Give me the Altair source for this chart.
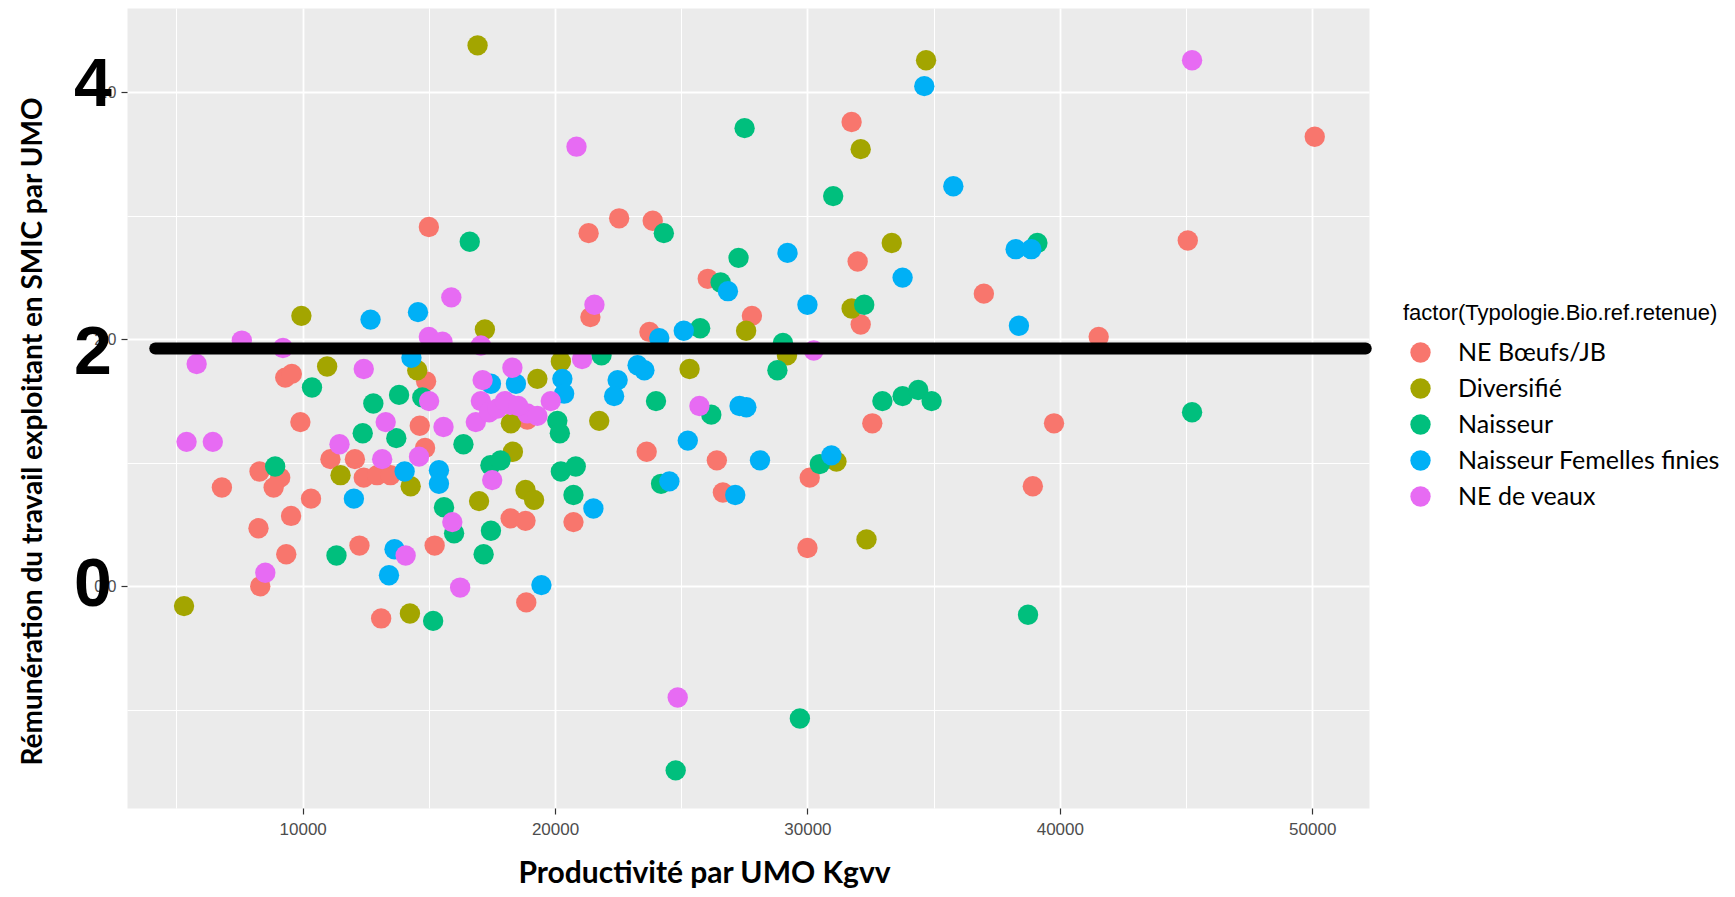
import altair as alt
import pandas as pd

categories = ["NE Bœufs/JB", "Diversifié", "Naisseur", "Naisseur Femelles finies", "NE de veaux"]
colors = ["#F8766D", "#A3A500", "#00BF7D", "#00B0F6", "#E76BF3"]

red_x = [15000, 21330, 22540, 23870, 31750, 31990, 26050, 21400, 32110, 27800, 23740, 36990, 41540, 45070, 50100,
         14890, 9310, 9570, 9910, 14640, 14850, 11100, 12070, 8290, 9110, 8850, 6800, 12420, 12950, 13480,
         10330, 9540, 8250, 9350, 12250, 15230, 8320, 13110, 18900, 23630, 26410, 26650, 32570, 30090, 18240,
         18830, 20730, 30000, 18860, 39770, 38930]
red_y = [2.91, 2.86, 2.98, 2.96, 3.76, 2.63, 2.49, 2.18, 2.12, 2.19, 2.06, 2.37, 2.02, 2.80, 3.64,
         1.66, 1.69, 1.72, 1.33, 1.30, 1.12, 1.03, 1.03, 0.93, 0.88, 0.80, 0.80, 0.88, 0.90, 0.90,
         0.71, 0.57, 0.47, 0.26, 0.33, 0.33, 0.00, -0.26, 1.35, 1.09, 1.02, 0.76, 1.32, 0.88, 0.55,
         0.53, 0.52, 0.31, -0.13, 1.32, 0.81]

olive_x = [16930, 9950, 17220, 10970, 14540, 32110, 31750, 27570, 29190, 20230, 25330, 19300, 34700, 33340,
           11500, 14280, 16990, 5300, 14250, 18250, 21750, 18330, 18830, 19170, 31150, 32340]
olive_y = [4.38, 2.19, 2.08, 1.78, 1.75, 3.54, 2.25, 2.07, 1.87, 1.82, 1.76, 1.68, 4.26, 2.78,
           0.90, 0.81, 0.69, -0.16, -0.22, 1.32, 1.34, 1.09, 0.78, 0.70, 1.01, 0.38]

green_x = [16620, 27510, 31020, 24310, 27270, 26560, 32250, 25750, 29030, 21840, 28810, 39110, 10370, 12800,
           13820, 14740, 12380, 13710, 16370, 8910, 15600, 16000, 17460, 17170, 11340, 15170, 24000, 26190,
           20090, 20190, 17440, 17840, 20230, 20820, 24200, 30490, 20730, 32970, 33770, 34390, 34920, 45240,
           38740, 29700, 24780]
green_y = [2.79, 3.71, 3.16, 2.86, 2.66, 2.46, 2.28, 2.09, 1.97, 1.87, 1.75, 2.78, 1.61, 1.48,
           1.55, 1.53, 1.24, 1.20, 1.15, 0.97, 0.64, 0.43, 0.45, 0.26, 0.25, -0.28, 1.50, 1.39,
           1.34, 1.24, 0.98, 1.02, 0.93, 0.97, 0.83, 0.99, 0.74, 1.50, 1.54, 1.59, 1.50, 1.41,
           -0.23, -1.07, -1.49]

blue_x = [12690, 14570, 14310, 26850, 29210, 30000, 24130, 25100, 34630, 35780, 33770, 38250, 38870, 38380,
          17460, 14040, 12030, 15400, 15400, 13640, 13420, 18450, 20290, 20360, 22480, 22340, 23540, 23270,
          27310, 27580, 25260, 28120, 24530, 27140, 30950, 21520, 19460]
blue_y = [2.16, 2.22, 1.85, 2.39, 2.70, 2.28, 2.01, 2.07, 4.05, 3.24, 2.50, 2.73, 2.73, 2.11,
          1.64, 0.93, 0.71, 0.94, 0.83, 0.30, 0.09, 1.64, 1.68, 1.56, 1.67, 1.54, 1.75, 1.79,
          1.46, 1.45, 1.18, 1.02, 0.85, 0.74, 1.06, 0.63, 0.01]

pink_x = [20850, 15890, 21560, 7590, 9220, 15000, 15540, 17060, 5800, 12420, 30250, 21070, 18310, 15010,
          17130, 17060, 16860, 17390, 17720, 13290, 15580, 11460, 14610, 5400, 6440, 13150, 15930, 14080,
          8520, 16240, 19830, 18240, 18900, 19300, 18010, 18540, 25720, 17510, 24860, 45240]
pink_y = [3.56, 2.34, 2.28, 1.99, 1.93, 2.02, 1.98, 1.95, 1.80, 1.76, 1.91, 1.84, 1.77, 1.50,
          1.67, 1.50, 1.33, 1.41, 1.44, 1.33, 1.29, 1.15, 1.05, 1.17, 1.17, 1.03, 0.52, 0.25,
          0.11, -0.01, 1.50, 1.47, 1.40, 1.38, 1.50, 1.46, 1.46, 0.86, -0.90, 4.26]

# horizontal reference line (SMIC threshold)
ref_x_start = [4160]
ref_x_end = [52120]
ref_y = [1.925]

# big overlay axis labels
big_labels = ["4", "2", "0"]
big_label_y = [4.05, 1.88, 0.0]

x_ticks = [5000, 10000, 15000, 20000, 25000, 30000, 35000, 40000, 45000, 50000]
y_ticks = [-1, 0, 1, 2, 3, 4]

series = [(categories[0], red_x, red_y), (categories[1], olive_x, olive_y), (categories[2], green_x, green_y),
          (categories[3], blue_x, blue_y), (categories[4], pink_x, pink_y)]
rows = []
for name, xs, ys in series:
    for a, b in zip(xs, ys):
        rows.append({"x": a, "y": b, "type": name})
df = pd.DataFrame(rows)

line_df = pd.DataFrame({"x": ref_x_start, "x2": ref_x_end, "y": ref_y})
big_df = pd.DataFrame({"t": big_labels, "y": big_label_y})

x_scale = alt.Scale(domain=[3040, 52250], nice=False, zero=False)
y_scale = alt.Scale(domain=[-1.795, 4.683], nice=False, zero=False)

x_axis = alt.Axis(
    values=x_ticks, format="d",
    labelExpr="datum.value % 10000 === 0 ? datum.label : ''",
    grid=True, gridColor="#FFFFFF",
    gridWidth={"condition": {"test": "datum.value % 10000 === 0", "value": 1.8}, "value": 1.0},
    tickColor={"condition": {"test": "datum.value % 10000 === 0", "value": "#333333"}, "value": "transparent"},
    tickSize=6, tickWidth=1.2, domain=False,
    labelFont="Liberation Sans", labelFontSize=17, labelColor="#4D4D4D", labelPadding=7,
    labelFlush=False, labelOverlap=False,
    titleFont="Lato", titleFontSize=30, titleFontWeight="bold", titleColor="#000000",
    titleX=577, titleY=65, titleAlign="center", titleBaseline="middle",
)
y_axis = alt.Axis(
    values=y_ticks,
    labelExpr="datum.value % 2 === 0 ? datum.label : ''",
    grid=True, gridColor="#FFFFFF",
    gridWidth={"condition": {"test": "datum.value % 2 === 0", "value": 1.8}, "value": 1.0},
    tickColor={"condition": {"test": "datum.value % 2 === 0", "value": "#333333"}, "value": "transparent"},
    tickSize=6, tickWidth=1.2, domain=False,
    labelFont="Liberation Sans", labelFontSize=16, labelColor="#4D4D4D", labelPadding=5,
    labelFlush=False, labelOverlap=False,
    titleFont="Lato", titleFontSize=28, titleFontWeight="bold", titleColor="#000000",
    titleX=-94, titleY=423, titleAngle=270, titleAlign="center", titleBaseline="middle",
)

legend = alt.Legend(
    orient="none", legendX=1276, legendY=295, padding=0,
    titleFont="Liberation Sans", titleFontSize=22, titleFontWeight="normal", titleColor="#000000",
    titlePadding=15, titleLimit=600,
    labelFont="Lato", labelFontSize=25, labelColor="#000000", labelLimit=500, labelOffset=25,
    symbolType="circle", symbolSize=415, symbolStrokeWidth=0, symbolOpacity=1, symbolOffset=5,
    rowPadding=10,
)

points = alt.Chart(df).mark_circle(size=415, opacity=1).encode(
    x=alt.X("x:Q", scale=x_scale, axis=x_axis, title="Productivité par UMO Kgvv"),
    y=alt.Y("y:Q", scale=y_scale, axis=y_axis, title="Rémunération du travail exploitant en SMIC par UMO"),
    color=alt.Color("type:N", scale=alt.Scale(domain=categories, range=colors), legend=legend,
                    title="factor(Typologie.Bio.ref.retenue)"),
)

ref_line = alt.Chart(line_df).mark_rule(strokeWidth=12, strokeCap="round", color="#000000").encode(
    x=alt.X("x:Q", scale=x_scale), x2="x2:Q", y=alt.Y("y:Q", scale=y_scale)
)

big = alt.Chart(big_df).mark_text(
    font="Liberation Sans", fontWeight="bold", fontSize=68, color="#000000", align="center", baseline="middle"
).encode(
    x=alt.value(-34), y=alt.Y("y:Q", scale=y_scale), text="t:N"
)

chart = alt.layer(points, ref_line, big).properties(
    width=1242, height=800,
    autosize=alt.AutoSizeParams(type="none"),
    padding={"left": 119, "top": 0, "right": 358, "bottom": 81},
).configure_view(fill="#EBEBEB", stroke="transparent")

chart.save("out.html", embed_options={"renderer": "svg", "actions": False})
